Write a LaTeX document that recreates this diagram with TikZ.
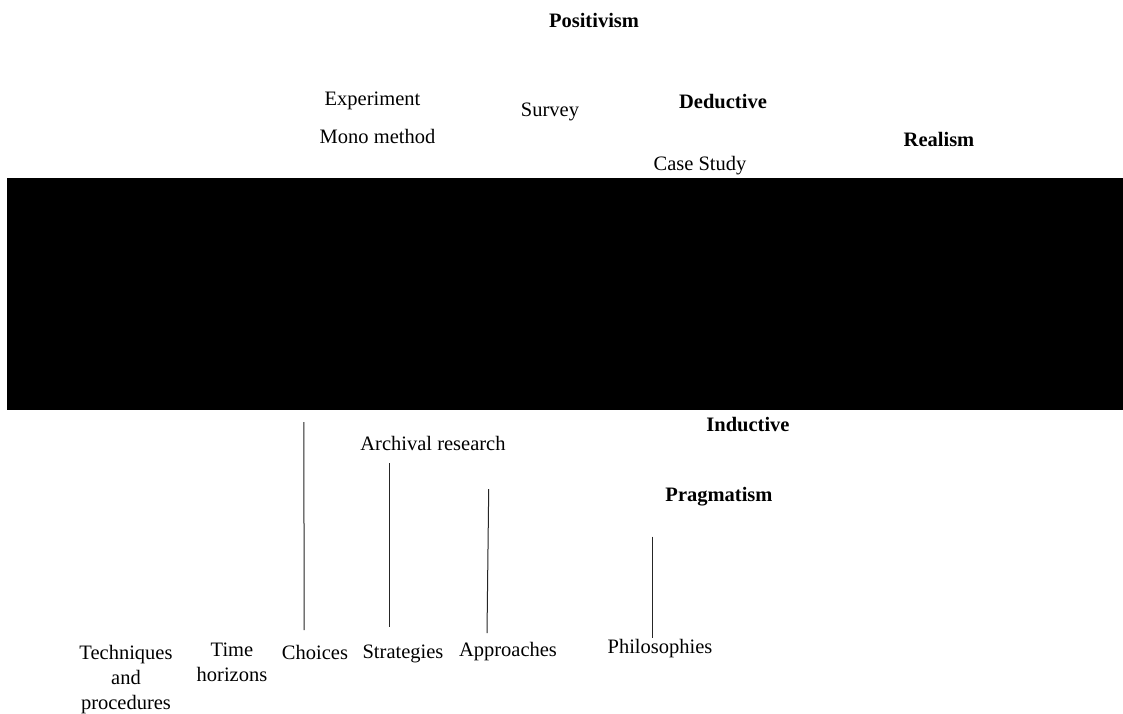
\documentclass[tikz,border=0pt]{standalone}
\usepackage{fontspec}
\setmainfont{Liberation Serif}
\begin{document}
\begin{tikzpicture}[x=1pt,y=-1pt,
  lbl/.style={inner sep=0pt,anchor=base,font=\fontsize{20.5}{25}\selectfont},
  hd/.style={lbl,font=\fontsize{20.5}{25}\selectfont\bfseries},
  multi/.style={lbl,align=center,anchor=north},
  tick/.style={draw=black!85,line width=1pt}]
\useasboundingbox[fill=white] (0,0) rectangle (1123,713);

% masked band across the middle
\fill[black] (7,178) rectangle (1123,410);

% labels above the band
\node[hd]  (posit)   at (594,27)    {Positivism};
\node[lbl] (exper)   at (372.5,105) {Experiment};
\node[lbl] (survey)  at (550,116)   {Survey};
\node[hd]  (deduct)  at (723,108)   {Deductive};
\node[lbl] (mono)    at (377.5,143) {Mono method};
\node[hd]  (realism) at (939,146.5) {Realism};
\node[lbl] (case)    at (700,170.5) {Case Study};

% labels below the band
\node[hd]  (induct)  at (748,431.5) {Inductive};
\node[lbl] (archiv)  at (433,450.5) {Archival research};
\node[hd]  (pragm)   at (719,501.5) {Pragmatism};

% layer names along the bottom
\node[multi] (tech)   at (126,645) {Techniques\\and\\procedures};
\node[multi] (timeh)  at (232,642.5) {Time\\horizons};
\node[lbl]   (choice) at (315,659.3) {Choices};
\node[lbl]   (strat)  at (403,658)   {Strategies};
\node[lbl]   (appr)   at (508,656.7) {Approaches};
\node[lbl]   (philo)  at (660,653.3) {Philosophies};

% vertical rules
\coordinate (choiceTop) at (303.8,422);
\coordinate (choiceBot) at (304.2,630);
\coordinate (stratTop)  at (389.3,463.3);
\coordinate (stratBot)  at (389.3,626.7);
\coordinate (apprTop)   at (488.7,489);
\coordinate (apprBot)   at (487,633);
\coordinate (philoTop)  at (652.7,536.7);
\coordinate (philoBot)  at (652.7,638.3);

\draw[tick] (choiceTop) -- (choiceBot);
\draw[tick] (stratTop) -- (stratBot);
\draw[tick] (apprTop) -- (apprBot);
\draw[tick] (philoTop) -- (philoBot);
\end{tikzpicture}
\end{document}
